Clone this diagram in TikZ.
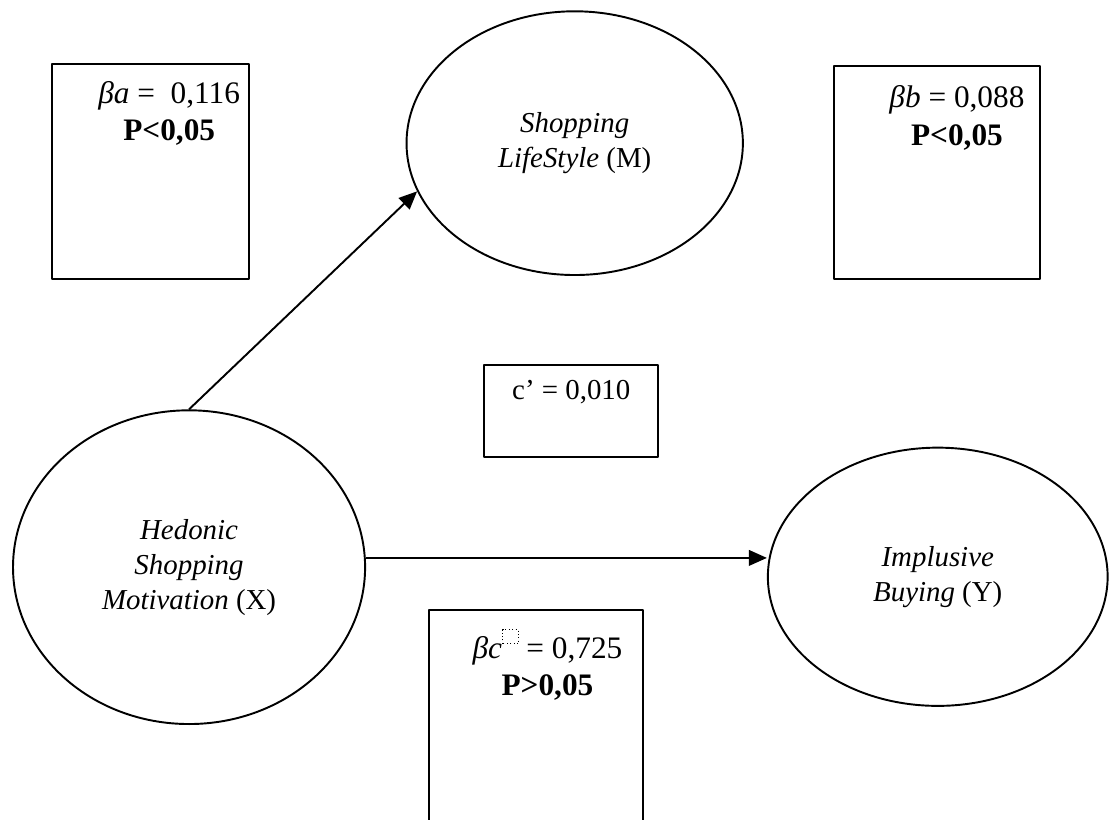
\documentclass[tikz,border=0pt]{standalone}
\usepackage{fontspec}
\setmainfont{Liberation Serif}
\usetikzlibrary{shapes.geometric,positioning,arrows.meta}
% o trong (placeholder) cua Word
\newcommand{\holderbox}{\raisebox{6pt}{\tikz\draw[densely dotted,line width=0.4pt] (0,0) rectangle (6.5pt,5.8pt);}}

\begin{document}
\begin{tikzpicture}[line join=round,>={Triangle[length=7.5pt,width=6.5pt]},font=\fontsize{12}{14.5}\selectfont,
	latent/.style={draw,ellipse,line width=0.8pt,inner sep=0pt,align=center},
	coefbox/.style={draw,rectangle,line width=0.8pt,inner sep=0pt},
	coeftext/.style={inner sep=0pt,align=center,font=\fontsize{13}{15.5}\selectfont}]
	\useasboundingbox (0,0) rectangle (16.19,11.97);
	% Cac bien
	\node[latent,minimum width=4.91cm,minimum height=3.85cm] (M) at (8.39,9.88) {\textit{Shopping}\\\textit{LifeStyle} (M)};
	\node[latent,minimum width=5.14cm,minimum height=4.58cm] (X) at (2.76,3.69) {\textit{Hedonic}\\\textit{Shopping}\\\textit{Motivation} (X)};
	\node[latent,minimum width=4.96cm,minimum height=3.77cm] (Y) at (13.69,3.55) {\textit{Implusive}\\\textit{Buying} (Y)};
	% Cac o he so
	\node[coefbox,minimum width=2.88cm,minimum height=3.14cm] (boxa) at (2.20,9.47) {};
	\node[coefbox,minimum width=3.01cm,minimum height=3.10cm] (boxb) at (13.68,9.45) {};
	\node[coefbox,minimum width=2.54cm,minimum height=1.34cm] (boxd) at (8.34,5.97) {};
	\node[minimum width=3.11cm,minimum height=3.07cm,inner sep=0pt,anchor=north west] (boxc) at (6.26,3.07) {};
	\draw[line width=0.8pt] (boxc.south west) -- (boxc.north west) -- (boxc.north east) -- (boxc.south east);
	\node[coeftext,below=0.26cm of boxa.north,xshift=0.27cm] (ta) {\textit{βa} = \ 0,116\\\textbf{P<0,05}};
	\node[coeftext,below=0.29cm of boxb.north,xshift=0.29cm] (tb) {\textit{βb} = 0,088\\\textbf{P<0,05}};
	\node[coeftext,font=\fontsize{12}{14.5}\selectfont,below=0.23cm of boxd.north] (td) {c’ = 0,010};
	\node[coeftext,below=0.28cm of boxc.north,xshift=0.17cm] (tc) {\textit{βc}\holderbox{} = 0,725\\\textbf{P>0,05}};
	% Cac duong tac dong
	\draw[->,line width=0.8pt] (X.north) -- (M.197);
	\draw[->,line width=0.8pt] (X.3) -- (X.3 -| Y.west);
\end{tikzpicture}
\end{document}
